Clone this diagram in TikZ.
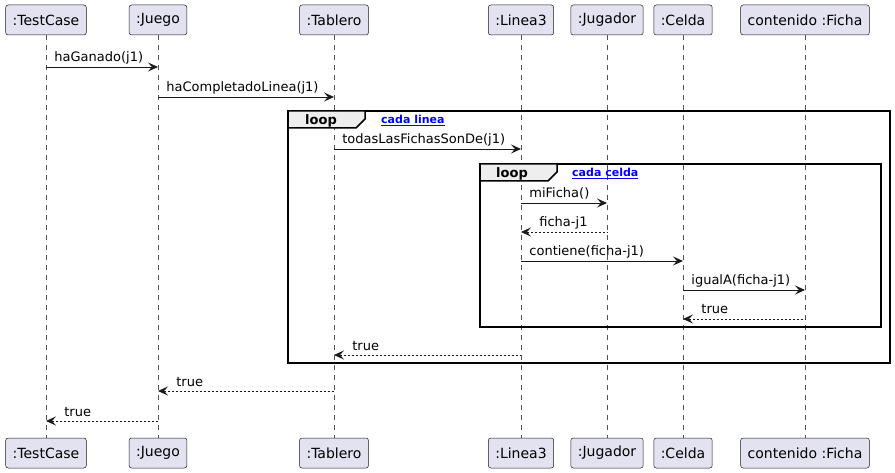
\documentclass[tikz,border=0pt]{standalone}
\usepackage{fontspec}
\setmainfont{DejaVu Sans}
\usetikzlibrary{arrows.meta, positioning, calc}
\definecolor{partfill}{RGB}{226,226,240}
\definecolor{partline}{RGB}{24,24,24}
\definecolor{tabfill}{RGB}{238,238,238}
\definecolor{linkblue}{RGB}{0,0,255}

\tikzset{
	part/.style={draw=partline, line width=0.5pt, fill=partfill, rounded corners=2.5pt,
		minimum height=30pt, inner xsep=7pt, font=\fontsize{14}{16}\selectfont},
	lifeline/.style={draw=partline!75, line width=0.5pt, dash pattern=on 5pt off 5pt},
	call/.style={draw=partline, line width=0.8pt, -{Stealth[length=10pt,width=9pt,inset=4pt]}},
	reply/.style={draw=partline, line width=0.8pt, dash pattern=on 2pt off 2pt,
		{Stealth[length=10pt,width=9pt,inset=4pt]}-},
	msglabel/.style={anchor=base west, inner sep=0pt, font=\fontsize{13}{15}\selectfont},
	loopframe/.style={draw=black, line width=1.5pt},
	looptab/.style={draw=black, line width=1.5pt, fill=tabfill, line join=miter},
	loopname/.style={anchor=base west, inner sep=0pt, font=\fontsize{13}{15}\selectfont\bfseries},
	guard/.style={anchor=base west, inner sep=0pt, text=linkblue, font=\fontsize{11}{13}\selectfont\bfseries}
}

\begin{document}
\begin{tikzpicture}[x=1pt, y=-1pt]
	\useasboundingbox (0,0) rectangle (895,473);
	% participants and lifelines
	\foreach \n/\x/\t in {tc/46/{:TestCase}, juego/158/{:Juego}, tablero/334/{:Tablero}, linea/521/{:Linea3},
		jugador/607/{:Jugador}, celda/683/{:Celda}, ficha/805/{contenido :Ficha}}{
		\node[part] (\n-top) at (\x,20) {\t};
		\node[part] (\n-bot) at (\x,453) {\t};
		\draw[lifeline] (\n-top) -- (\n-bot);}
	% loop frames
	\draw[loopframe] (288,111) rectangle (890,363);
	\draw[looptab] (288,111) -- (365,111) -- (365,119) -- (356,128) -- (288,128) -- cycle;
	\node[loopname] (outer-loop) at (305,124.5) {loop};
	\node[guard] (outer-guard) at (381,123.5) {\underline{cada linea}};
	\draw[loopframe] (480,164) rectangle (881,327);
	\draw[looptab] (480,164) -- (557,164) -- (557,172) -- (548,181) -- (480,181) -- cycle;
	\node[loopname] (inner-loop) at (496,177.5) {loop};
	\node[guard] (inner-guard) at (572,176.5) {\underline{cada celda}};
	% calls
	\foreach \a/\b/\y/\t in {tc/juego/67/{haGanado(j1)}, juego/tablero/97/{haCompletadoLinea(j1)},
		tablero/linea/149/{todasLasFichasSonDe(j1)}, linea/jugador/203/{miFicha()},
		linea/celda/261/{contiene(ficha-j1)}, celda/ficha/290/{igualA(ficha-j1)}}{
		\draw[call] (\a-top |- 0,\y) -- (\b-top |- 0,\y) node[msglabel, pos=0, xshift=8pt, yshift=5pt] (m\y) {\t};}
	% replies
	\foreach \a/\b/\y/\t in {linea/jugador/232/{ficha-j1}, celda/ficha/319/{true}, tablero/linea/355/{true},
		juego/tablero/391/{true}, tc/juego/421/{true}}{
		\draw[reply] (\a-top |- 0,\y) -- (\b-top |- 0,\y) node[msglabel, pos=0, xshift=18pt, yshift=5pt] (r\y) {\t};}
\end{tikzpicture}
\end{document}
